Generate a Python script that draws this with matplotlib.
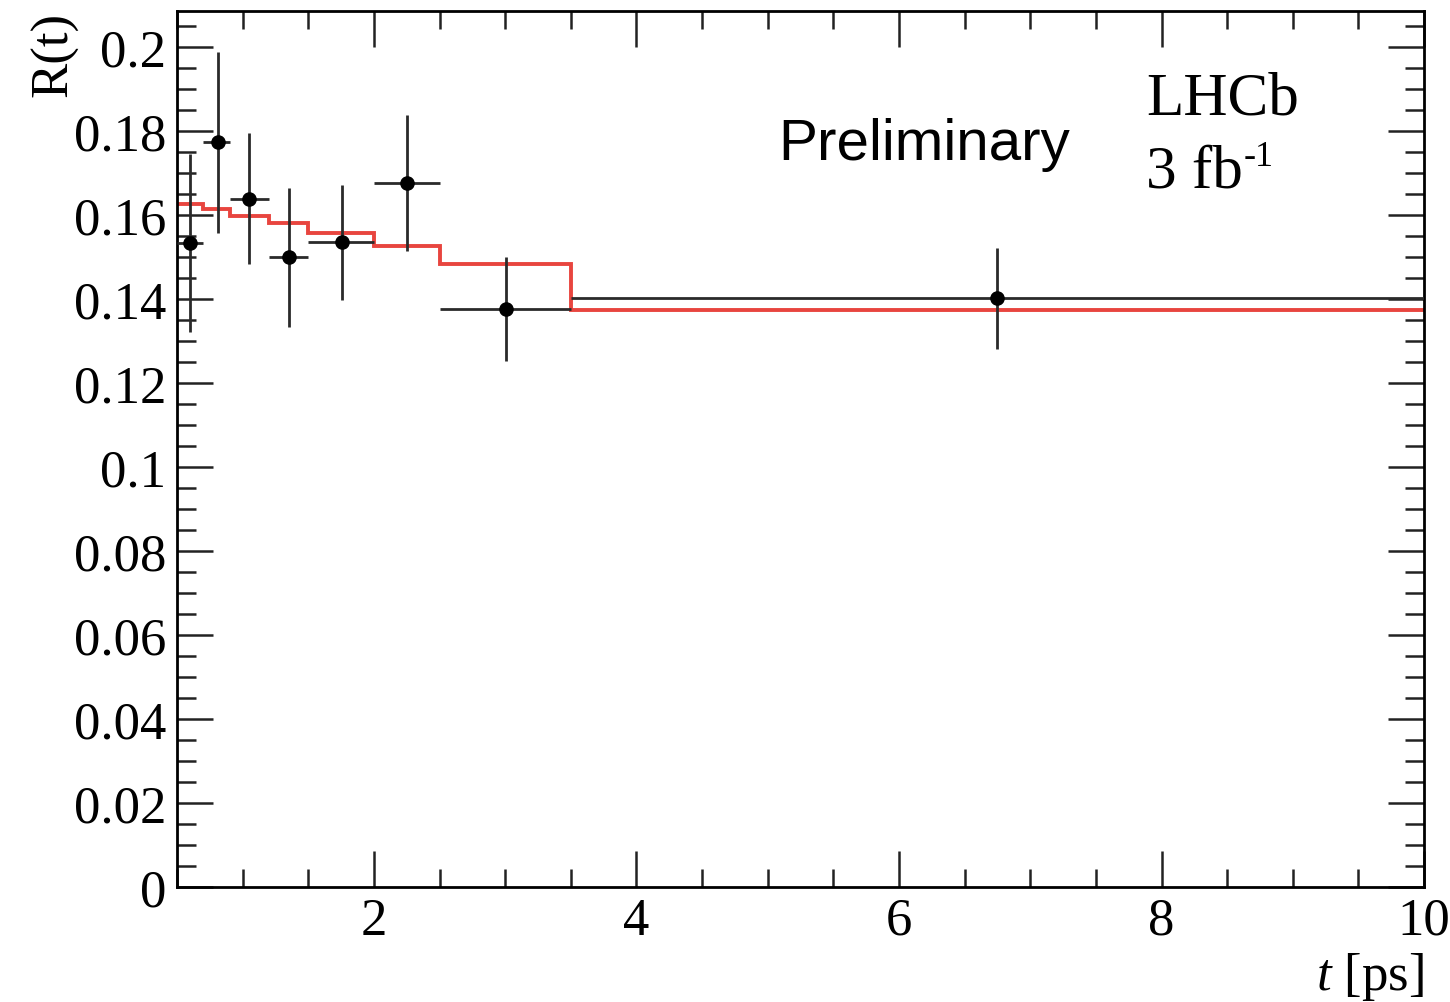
import matplotlib
matplotlib.use("Agg")
import matplotlib.pyplot as plt
import numpy as np
from matplotlib.ticker import MultipleLocator, FuncFormatter

# binned ratio measurement, t in ps
bin_lo = [0.5, 0.7, 0.9, 1.2, 1.5, 2.0, 2.5, 3.5]
bin_hi = [0.7, 0.9, 1.2, 1.5, 2.0, 2.5, 3.5, 10.0]
t_mean = [0.60, 0.81, 1.05, 1.355, 1.754, 2.254, 3.006, 6.747]
ratio = [0.1533, 0.1774, 0.1640, 0.1500, 0.1536, 0.1677, 0.1377, 0.1402]
ratio_err = [0.0212, 0.0215, 0.0155, 0.0165, 0.0137, 0.0162, 0.0124, 0.0120]

# fit projection per bin
fit = [0.1627, 0.1615, 0.1599, 0.1582, 0.1558, 0.1528, 0.1484, 0.1375]

serif = ["Liberation Serif", "DejaVu Serif"]
plt.rcParams["font.family"] = serif
plt.rcParams["mathtext.fontset"] = "custom"
plt.rcParams["mathtext.rm"] = "Liberation Serif"
plt.rcParams["mathtext.it"] = "Liberation Serif:italic"

fig = plt.figure(figsize=(14.5, 10.03), dpi=100)
ax = fig.add_axes([0.1221, 0.1147, 0.9821 - 0.1221, 0.9877 - 0.1147])

edges = np.array(bin_lo + [bin_hi[-1]])
ax.stairs(fit, edges, color="#e8453f", lw=2.8, zorder=2, baseline=None)

t = np.array(t_mean)
xerr = [t - np.array(bin_lo), np.array(bin_hi) - t]
ax.errorbar(t, ratio, yerr=ratio_err, xerr=xerr, fmt="o", color="black",
            ecolor="#2a2a2a", elinewidth=2.0, capsize=0, markersize=9.5, zorder=3)

ax.set_xlim(0.5, 10)
ax.set_ylim(0, 0.2086)

ax.xaxis.set_major_locator(MultipleLocator(2))
ax.xaxis.set_minor_locator(MultipleLocator(0.5))
ax.yaxis.set_major_locator(MultipleLocator(0.02))
ax.yaxis.set_minor_locator(MultipleLocator(0.005))
ax.yaxis.set_major_formatter(FuncFormatter(lambda v, p: f"{round(v, 4):g}"))

ax.tick_params(axis="both", which="both", direction="in", top=True, right=True,
               width=1.8, color="#222222")
ax.tick_params(axis="x", which="major", length=26, labelsize=38, pad=7)
ax.tick_params(axis="x", which="minor", length=13)
ax.tick_params(axis="y", which="major", length=26, labelsize=38, pad=8)
ax.tick_params(axis="y", which="minor", length=14)
for s in ax.spines.values():
    s.set_linewidth(2.0)

ax.set_ylabel("R(t)", fontsize=38, loc="top")
ax.yaxis.set_label_coords(-0.079, 1.0)
ax.set_xlabel(r"$\mathit{t}$ [ps]", fontsize=38, loc="right", labelpad=4)

ax.text(0.482, 0.831, "Preliminary", transform=ax.transAxes, fontsize=42,
        family=["Liberation Sans", "DejaVu Sans"], va="baseline", ha="left")
ax.text(0.777, 0.883, "LHCb", transform=ax.transAxes, fontsize=44,
        va="baseline", ha="left")
ax.text(0.777, 0.7994, "3 fb", transform=ax.transAxes, fontsize=44,
        va="baseline", ha="left")
ax.text(0.855, 0.8245, "-1", transform=ax.transAxes, fontsize=26,
        va="baseline", ha="left")

fig.savefig("out.png", dpi=100)
